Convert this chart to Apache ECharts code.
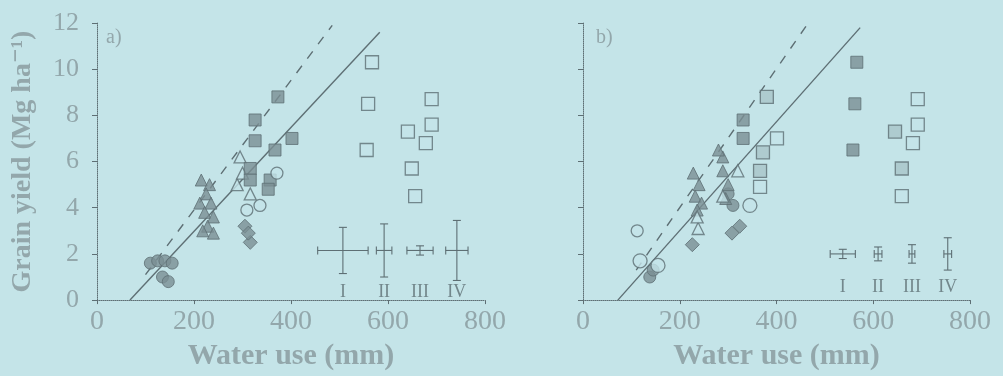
<!DOCTYPE html>
<html>
<head>
<meta charset="utf-8">
<script src="https://cdn.jsdelivr.net/npm/echarts@6/dist/echarts.min.js"></script>
<style>
  html, body { margin: 0; background: #c4e4e8; }
  #chart { width: 1003px; height: 376px; }
</style>
</head>
<body>
<div id="chart"></div>
<script>
// axis ticks
const xTicks = [0, 200, 400, 600, 800];
const yTicks = [0, 2, 4, 6, 8, 10, 12];

// panel a) points [water use mm, grain yield Mg/ha]
const aFilledCircle = [[110, 1.6], [125, 1.7], [140, 1.7], [155, 1.6], [135, 1.0], [147, 0.8]];
const aFilledTri = [[215, 5.2], [232, 5.0], [225, 4.6], [212, 4.2], [235, 4.2], [222, 3.8], [240, 3.6], [228, 3.2], [240, 2.9], [218, 3.0]];
const aOpenTri = [[295, 6.2], [289, 5.0], [316, 4.6], [300, 5.5]];
const aFilledSquare = [[316, 5.7], [316, 5.2], [357, 5.2], [353, 4.8], [367, 6.5], [402, 7.0], [326, 7.8], [326, 6.9], [373, 8.8]];
const aOpenCircle = [[336, 4.1], [309, 3.9], [371, 5.5]];
const aFilledDiamond = [[305, 3.2], [316, 2.5], [312, 2.9]];
const aOpenSquare = [[567, 10.3], [559, 8.5], [556, 6.5], [690, 8.7], [690, 7.6], [641, 7.3], [678, 6.8], [649, 5.7], [656, 4.5]];

// panel b) points
const bFilledCircle = [[138, 1.0], [145, 1.3], [310, 4.1], [300, 4.6]];
const bCrossCircle = [[112, 3.0]];
const bOpenCircle = [[118, 1.7], [155, 1.5], [345, 4.1]];
const bFilledTri = [[228, 5.5], [240, 5.0], [232, 4.5], [245, 4.2], [236, 3.9], [289, 6.2], [280, 6.5], [289, 5.6], [300, 5.0], [295, 4.4]];
const bOpenTri = [[238, 3.1], [236, 3.6], [320, 5.6], [289, 4.5]];
const bFilledSquare = [[566, 10.3], [562, 8.5], [558, 6.5], [331, 7.8], [331, 7.0]];
const bShadedSquare = [[380, 8.8], [372, 6.4], [366, 5.6], [645, 7.3], [659, 5.7]];
const bOpenSquare = [[692, 8.7], [692, 7.6], [682, 6.8], [401, 7.0], [366, 4.9], [659, 4.5]];
const bFilledDiamond = [[226, 2.4], [308, 2.9], [324, 3.2]];

// regression lines
const aSolid = [[68, 0], [583, 11.6]];
const aDashed = [[100, 1.1], [485, 11.9]];
const bSolid = [[72, 0], [573, 11.8]];
const bDashed = [[110, 1.3], [469, 12.1]];

// error bars [x, y, halfX, halfY] and labels
const aErr = [[507, 2.15, 52, 1.0], [592, 2.15, 16, 1.15], [666, 2.15, 27, 0.2], [742, 2.15, 23, 1.3]];
const bErr = [[537, 2.0, 26, 0.2], [610, 2.0, 8, 0.3], [680, 2.0, 6, 0.4], [754, 2.0, 8, 0.7]];
const errNames = ['I', 'II', 'III', 'IV'];
const aLabelY = 0.35;
const bLabelY = 0.55;

const ink = '#5e6f74';
const fillInk = '#7a8e93';
const textInk = '#93a7ab';
const bg = '#c4e4e8';
const serif = '"Liberation Serif", "DejaVu Serif", serif';

const chart = echarts.init(document.getElementById('chart'), null, { renderer: 'canvas' });

function xAxis(i) {
  return {
    gridIndex: i, type: 'value', min: 0, max: 800, interval: 200,
    name: 'Water use (mm)', nameLocation: 'middle', nameGap: 37,
    nameTextStyle: { fontFamily: serif, fontSize: 30, fontWeight: 'bold', color: textInk },
    axisLine: { lineStyle: { color: ink, type: 'dotted', width: 1 } },
    axisTick: { show: true, length: 4, lineStyle: { color: ink } },
    axisLabel: { fontFamily: serif, fontSize: 28, color: textInk, margin: 8 },
    splitLine: { show: false }
  };
}
function yAxis(i, showLabels) {
  return {
    gridIndex: i, type: 'value', min: 0, max: 12, interval: 2,
    name: showLabels ? 'Grain yield (Mg ha⁻¹)' : '', nameLocation: 'middle', nameGap: 60, nameRotate: 90,
    nameTextStyle: { fontFamily: serif, fontSize: 28, fontWeight: 'bold', color: textInk },
    axisLine: { show: true, lineStyle: { color: ink, type: 'dotted', width: 1 } },
    axisTick: { show: true, length: 5, lineStyle: { color: ink } },
    axisLabel: { show: showLabels, fontFamily: serif, fontSize: 26, color: textInk, margin: 18 },
    splitLine: { show: false }
  };
}

function pts(data, i, symbol, filled, size, extra) {
  return Object.assign({
    type: 'scatter', xAxisIndex: i, yAxisIndex: i, data: data,
    symbol: symbol, symbolSize: size || 12,
    itemStyle: filled
      ? { color: fillInk, borderColor: ink, borderWidth: 1 }
      : { color: bg, borderColor: ink, borderWidth: 1.3 },
    z: 3
  }, extra || {});
}
function line(data, i, dashed) {
  return {
    type: 'line', xAxisIndex: i, yAxisIndex: i, data: data, symbol: 'none',
    lineStyle: { color: ink, width: 1.4, type: dashed ? [9, 9] : 'solid' }, z: 2
  };
}
function errBars(data, i) {
  return {
    type: 'custom', xAxisIndex: i, yAxisIndex: i, data: data, encode: { x: 0, y: 1 }, z: 4,
    renderItem: function (params, api) {
      const x = api.value(0), y = api.value(1), dx = api.value(2), dy = api.value(3);
      const l = api.coord([x - dx, y]), r = api.coord([x + dx, y]);
      const t = api.coord([x, y + dy]), b = api.coord([x, y - dy]);
      const s = { stroke: ink, lineWidth: 1.1 };
      const c = 4;
      const seg = (x1, y1, x2, y2) => ({ type: 'line', shape: { x1, y1, x2, y2 }, style: s });
      return {
        type: 'group', children: [
          seg(l[0], l[1], r[0], r[1]), seg(t[0], t[1], b[0], b[1]),
          seg(l[0], l[1] - c, l[0], l[1] + c), seg(r[0], r[1] - c, r[0], r[1] + c),
          seg(t[0] - c, t[1], t[0] + c, t[1]), seg(b[0] - c, b[1], b[0] + c, b[1])
        ]
      };
    }
  };
}
function errLabels(data, y, i) {
  return {
    type: 'scatter', xAxisIndex: i, yAxisIndex: i, symbolSize: 0,
    data: data.map((d, k) => ({ value: [d[0], y], name: errNames[k] })),
    label: { show: true, position: 'inside', formatter: '{b}', fontFamily: serif, fontSize: 18, color: ink }
  };
}

chart.setOption({
  backgroundColor: bg,
  animation: false,
  grid: [
    { left: 97, top: 23, width: 388, height: 283 },
    { left: 583, top: 23, width: 387, height: 283 }
  ],
  xAxis: [xAxis(0), xAxis(1)],
  yAxis: [yAxis(0, true), yAxis(1, false)],
  graphic: [
    { type: 'text', left: 106, top: 28, style: { text: 'a)', font: '20px ' + serif, fill: textInk } },
    { type: 'text', left: 596, top: 28, style: { text: 'b)', font: '20px ' + serif, fill: textInk } }
  ],
  series: [
    line(aSolid, 0, false), line(aDashed, 0, true),
    line(bSolid, 1, false), line(bDashed, 1, true),
    pts(aFilledCircle, 0, 'circle', true),
    pts(aFilledTri, 0, 'triangle', true),
    pts(aOpenTri, 0, 'triangle', false),
    pts(aFilledSquare, 0, 'rect', true),
    pts(aOpenCircle, 0, 'circle', false),
    pts(aFilledDiamond, 0, 'diamond', true, 14),
    pts(aOpenSquare, 0, 'rect', false, 13),
    pts(bFilledCircle, 1, 'circle', true),
    pts(bCrossCircle, 1, 'circle', false),
    pts(bOpenCircle, 1, 'circle', false, 14),
    pts(bFilledTri, 1, 'triangle', true),
    pts(bOpenTri, 1, 'triangle', false),
    pts(bFilledSquare, 1, 'rect', true),
    pts(bShadedSquare, 1, 'rect', false, 13, { itemStyle: { color: '#a9c4c8', borderColor: ink, borderWidth: 1.3 } }),
    pts(bOpenSquare, 1, 'rect', false, 13),
    pts(bFilledDiamond, 1, 'diamond', true, 14),
    errBars(aErr, 0), errBars(bErr, 1),
    errLabels(aErr, aLabelY, 0), errLabels(bErr, bLabelY, 1)
  ]
});
</script>
</body>
</html>
